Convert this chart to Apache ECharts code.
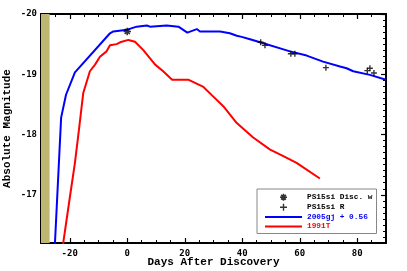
<!DOCTYPE html>
<html><head><meta charset="utf-8">
<script src="https://cdn.jsdelivr.net/npm/echarts@6/dist/echarts.min.js"></script>
<style>html,body{margin:0;padding:0;background:#fff}#c{width:407px;height:271px}</style>
</head><body><div id="c"></div>
<script>
// ---- data ----
const xTickLabels = [-20, 0, 20, 40, 60, 80];
const yTickLabels = [-20, -19, -18, -17];

const days2005gj = [-25.35, -23.0, -21.3, -18.2, -6.0, -4.85, 0, 3.3, 6.8, 7.9, 13.7, 17.8, 20.9, 24.2, 25.3, 32.3, 35.7, 38.1, 39.8, 42.7, 46.2, 56.6, 62.4, 68.1, 74.0, 76.3, 78.6, 84.4, 90];
const mag2005gj  = [-16.0, -18.28, -18.66, -19.03, -19.68, -19.71, -19.74, -19.79, -19.81, -19.79, -19.81, -19.79, -19.69, -19.75, -19.71, -19.71, -19.68, -19.64, -19.62, -19.58, -19.53, -19.38, -19.31, -19.21, -19.13, -19.10, -19.05, -18.99, -18.91];

const days1991T = [-22.88, -19.9, -18.2, -16.8, -15.3, -13.0, -11.2, -9.5, -7.2, -6.0, -3.7, -2.5, 0.4, 2.7, 5.6, 9.7, 12.5, 15.6, 21.2, 26.5, 29.5, 33.4, 38.1, 43.8, 49.7, 54.3, 58.9, 67.0];
const mag1991T  = [-16.0, -16.98, -17.53, -18.08, -18.69, -19.05, -19.16, -19.29, -19.38, -19.48, -19.50, -19.53, -19.57, -19.54, -19.40, -19.16, -19.05, -18.91, -18.91, -18.79, -18.65, -18.47, -18.19, -17.95, -17.75, -17.64, -17.53, -17.27];

const daysDisc = [0];
const magDisc  = [-19.71];

const daysR = [46.4, 47.9, 56.9, 58.3, 69.1, 83.5, 84.4, 85.8];
const magR  = [-19.53, -19.48, -19.34, -19.34, -19.11, -19.06, -19.10, -19.02];

const earlyBand = [-30, -27];

const xRange = [-30, 90];
const yRange = [-20, -16.2];

// ---- chart ----
const zip = (a, b) => a.map((v, i) => [v, b[i]]);
const monoBold = 'DejaVu Sans Mono';
const plusPath = 'path://M0,5L10,5M5,0L5,10';
const starPath = 'path://M0,5L10,5M5,0L5,10M1.6,1.6L8.4,8.4M1.6,8.4L8.4,1.6';
const barPath = 'path://M0,0H37V2H0Z';

const gridRect = {left: 41, right: 21, top: 14, bottom: 28, containLabel: false, outerBoundsMode: 'none'};
const lineBlack = {color: '#000', width: 2};

function xAx(grid, pos, major) {
  return {
    type: 'value', gridIndex: grid, position: pos,
    min: xRange[0], max: xRange[1], interval: 5,
    axisLine: {show: !major, onZero: false, lineStyle: lineBlack},
    axisTick: major
      ? {show: true, inside: true, length: 5, customValues: xTickLabels, lineStyle: {color: '#000', width: 1.2}}
      : {show: true, inside: true, length: 3, lineStyle: {color: '#000', width: 1}},
    axisLabel: (!major && pos === 'bottom')
      ? {show: true, customValues: xTickLabels, margin: 6, color: '#000', fontFamily: monoBold, fontWeight: 'bold', fontSize: 9}
      : {show: false},
    splitLine: {show: false},
    name: (!major && pos === 'bottom') ? 'Days After Discovery' : '',
    nameLocation: 'middle', nameGap: 14, nameMoveOverlap: false,
    nameTextStyle: {fontFamily: 'Liberation Mono', fontSize: 11, fontWeight: 'bold', color: '#000', verticalAlign: 'top'}
  };
}
function yAx(grid, pos, major) {
  return {
    type: 'value', gridIndex: grid, position: pos, inverse: true,
    min: yRange[0], max: yRange[1], interval: 0.1,
    axisLine: {show: !major, onZero: false, lineStyle: lineBlack},
    axisTick: major
      ? {show: true, inside: true, length: 5, customValues: yTickLabels, lineStyle: {color: '#000', width: 1.2}}
      : {show: true, inside: true, length: 3, lineStyle: {color: '#000', width: 1}},
    axisLabel: (!major && pos === 'left')
      ? {show: true, customValues: yTickLabels, margin: 4, color: '#000', fontFamily: monoBold, fontWeight: 'bold', fontSize: 9}
      : {show: false},
    splitLine: {show: false},
    name: (!major && pos === 'left') ? 'Absolute Magnitude' : '',
    nameLocation: 'middle', nameGap: 28, nameRotate: 90, nameMoveOverlap: false,
    nameTextStyle: {fontFamily: 'Liberation Mono', fontSize: 11, fontWeight: 'bold', color: '#000'}
  };
}

const chart = echarts.init(document.getElementById('c'), null, {renderer: 'canvas'});
chart.setOption({
  animation: false,
  backgroundColor: '#fff',
  grid: [Object.assign({}, gridRect), Object.assign({}, gridRect)],
  xAxis: [xAx(0, 'bottom', false), xAx(0, 'top', false), xAx(1, 'bottom', true), xAx(1, 'top', true)],
  yAxis: [yAx(0, 'left', false), yAx(0, 'right', false), yAx(1, 'left', true), yAx(1, 'right', true)],
  legend: {
    left: 257, top: 189, orient: 'vertical',
    padding: [4, 4, 3, 8], itemGap: 1.5, itemWidth: 37, itemHeight: 7,
    backgroundColor: '#fff', borderColor: '#888', borderWidth: 1, borderRadius: 0,
    textStyle: {fontFamily: 'Liberation Mono', fontSize: 7.8, fontWeight: 'bold', color: '#000', lineHeight: 7},
    data: [
      {name: 'PS15si Disc. w', icon: starPath, itemStyle: {color: 'rgba(0,0,0,0)', borderColor: '#000', borderWidth: 1.6}},
      {name: 'PS15si R', icon: plusPath, itemStyle: {color: 'rgba(0,0,0,0)', borderColor: '#000', borderWidth: 1.4}},
      {name: '2005gj + 0.56', icon: barPath, itemStyle: {color: '#0000ff', borderWidth: 0}, textStyle: {color: '#0000ff'}},
      {name: '1991T', icon: barPath, itemStyle: {color: '#ff0000', borderWidth: 0}, textStyle: {color: '#ff0000'}}
    ]
  },
  series: [
    {
      name: '1991T', type: 'line', xAxisIndex: 0, yAxisIndex: 0,
      data: zip(days1991T, mag1991T), showSymbol: false, symbol: 'none',
      lineStyle: {color: '#ff0000', width: 2}, itemStyle: {color: '#ff0000'}, z: 3,
      markArea: {silent: true, itemStyle: {color: '#beb774', opacity: 1},
        data: [[{xAxis: earlyBand[0]}, {xAxis: earlyBand[1]}]]}
    },
    {
      name: '2005gj + 0.56', type: 'line', xAxisIndex: 0, yAxisIndex: 0,
      data: zip(days2005gj, mag2005gj), showSymbol: false, symbol: 'none',
      lineStyle: {color: '#0000ff', width: 2}, itemStyle: {color: '#0000ff'}, z: 4
    },
    {
      name: 'PS15si R', type: 'scatter', xAxisIndex: 0, yAxisIndex: 0,
      data: zip(daysR, magR), symbol: plusPath, symbolSize: 6,
      itemStyle: {color: 'rgba(0,0,0,0)', borderColor: '#000', borderWidth: 1.4}, z: 5
    },
    {
      name: 'PS15si Disc. w', type: 'scatter', xAxisIndex: 0, yAxisIndex: 0,
      data: zip(daysDisc, magDisc), symbol: starPath, symbolSize: 7.5,
      itemStyle: {color: 'rgba(0,0,0,0)', borderColor: '#000', borderWidth: 1.6}, z: 6
    }
  ]
});
</script>
</body></html>
